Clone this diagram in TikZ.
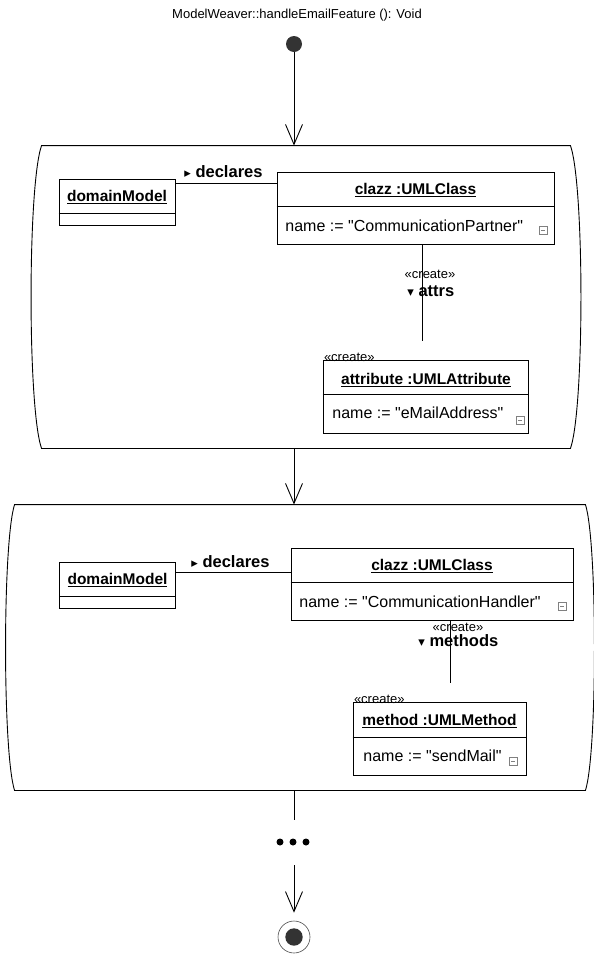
\documentclass[tikz,border=0pt]{standalone}
\usepackage{fontspec}
\setmainfont{Liberation Sans}[Ligatures=TeXOff]
\newfontfamily\symfont{DejaVu Sans}
\usetikzlibrary{arrows.meta,positioning,calc}

\begin{document}
\begin{tikzpicture}[x=1pt,y=-1pt,line width=0.9pt,
    objbox/.style={draw, rectangle, inner sep=0pt},
    objname/.style={font=\fontsize{15.5}{18}\selectfont\bfseries, inner sep=0pt},
    attrtext/.style={font=\fontsize{16}{19}\selectfont, inner sep=0pt, anchor=west},
    stereo/.style={font=\fontsize{13}{15}\selectfont, inner sep=0pt},
    rolelabel/.style={font=\fontsize{16.5}{18}\selectfont\bfseries, inner sep=0pt, anchor=west},
    minusicon/.style={draw=gray, line width=0.6pt, minimum size=8pt, inner sep=0pt,
      path picture={\draw[gray, line width=0.6pt] ([xshift=2pt]path picture bounding box.west) -- ([xshift=-2pt]path picture bounding box.east);}},
    flow/.style={-{Straight Barb[length=20pt,width=17pt]}},
    activity/.style={inner sep=0pt},
    dotnode/.style={circle, fill=black, minimum size=7pt, inner sep=0pt}]

  \useasboundingbox (0,0) rectangle (594,954);

  \node[font=\fontsize{13}{15}\selectfont] (title) at (297,15) {ModelWeaver::handleEmailFeature (): Void};
  \node[circle, fill=black!80, minimum size=16pt, inner sep=0pt] (start) at (294,44) {};

  % first activity
  \node[activity, minimum width=528, minimum height=302] (actA) at (306,297) {};
  \draw (actA.north west) -- (actA.north east)
     .. controls ([shift={(14,40)}]actA.north east) and ([shift={(14,-40)}]actA.south east) .. (actA.south east)
     -- (actA.south west)
     .. controls ([shift={(-14,-40)}]actA.south west) and ([shift={(-14,40)}]actA.north west) .. (actA.north west) -- cycle;

  \node[objbox, minimum width=116, minimum height=46] (domA) at (117,202) {};
  \node[objname] (domAname) at (117,197) {\underline{domainModel}};
  \draw (domA.west |- 0,213) -- (domA.east |- 0,213);

  \node[objbox, minimum width=277, minimum height=72] (clazzA) at (415.5,208) {};
  \node[objname] (clazzAname) at (415.5,190) {\underline{clazz :UMLClass}};
  \draw (clazzA.west |- 0,206) -- (clazzA.east |- 0,206);
  \node[attrtext] (clazzAattr) at (285,226) {name := "CommunicationPartner"};
  \node[minusicon] (clazzAicon) at (543,230) {};

  \draw (domA.east |- 0,183) -- (clazzA.west |- 0,183);
  \node[rolelabel] (declA) at (184,172) {{\symfont\fontsize{13}{13}\selectfont ▸} declares};

  \coordinate (attrsEnd) at (422,341);
  \draw (attrsEnd |- clazzA.south) -- (attrsEnd);
  \node[stereo] (attrsStereo) at (430,274) {«create»};
  \node[rolelabel] (attrsLabel) at (407,291) {{\symfont\fontsize{13}{13}\selectfont ▾} attrs};

  \node[objbox, minimum width=205, minimum height=73] (attrObj) at (425.5,396.5) {};
  \node[stereo, anchor=base west] (attrCreate) at ([xshift=1pt,yshift=-2pt]attrObj.north west) {«create»};
  \node[objname] (attrObjName) at (426,380) {\underline{attribute :UMLAttribute}};
  \draw (attrObj.west |- 0,394) -- (attrObj.east |- 0,394);
  \node[attrtext] (attrObjAttr) at (332,413) {name := "eMailAddress"};
  \node[minusicon] (attrObjIcon) at (520,420) {};

  % second activity
  \node[activity, minimum width=570, minimum height=285] (actB) at (300,647.5) {};
  \draw (actB.north west) -- (actB.north east)
     .. controls ([shift={(12,38)}]actB.north east) and ([shift={(12,-38)}]actB.south east) .. (actB.south east)
     -- (actB.south west)
     .. controls ([shift={(-12,-38)}]actB.south west) and ([shift={(-12,38)}]actB.north west) .. (actB.north west) -- cycle;

  \node[objbox, minimum width=116, minimum height=46] (domB) at (117.5,585) {};
  \node[objname] (domBname) at (117.5,580) {\underline{domainModel}};
  \draw (domB.west |- 0,596) -- (domB.east |- 0,596);

  \node[objbox, minimum width=282, minimum height=72] (clazzB) at (432,584) {};
  \node[objname] (clazzBname) at (432,566) {\underline{clazz :UMLClass}};
  \draw (clazzB.west |- 0,582) -- (clazzB.east |- 0,582);
  \node[attrtext] (clazzBattr) at (299,602) {name := "CommunicationHandler"};
  \node[minusicon] (clazzBicon) at (562,606) {};

  \draw (domB.east |- 0,572) -- (clazzB.west |- 0,572);
  \node[rolelabel] (declB) at (191,562) {{\symfont\fontsize{13}{13}\selectfont ▸} declares};

  \coordinate (methodsEnd) at (450,683);
  \draw (methodsEnd |- clazzB.south) -- (methodsEnd);
  \node[stereo] (methodsStereo) at (458,627) {«create»};
  \node[rolelabel] (methodsLabel) at (418,641) {{\symfont\fontsize{13}{13}\selectfont ▾} methods};

  \node[objbox, minimum width=173, minimum height=73] (methObj) at (439.5,738.5) {};
  \node[stereo, anchor=base west] (methCreate) at ([xshift=1pt,yshift=-2pt]methObj.north west) {«create»};
  \node[objname] (methObjName) at (439.5,721) {\underline{method :UMLMethod}};
  \draw (methObj.west |- 0,737) -- (methObj.east |- 0,737);
  \node[attrtext] (methObjAttr) at (363,756) {name := "sendMail"};
  \node[minusicon] (methObjIcon) at (513,761) {};

  % flow
  \draw[flow] (start) -- (start |- actA.north);
  \draw[flow] (start |- actA.south) -- (start |- actB.north);

  \coordinate (moreTop) at (294,820);
  \draw (start |- actB.south) -- (moreTop);
  \node[dotnode] (moreA) at (280,842) {};
  \node[dotnode] (moreB) at (293,842) {};
  \node[dotnode] (moreC) at (306,842) {};

  \coordinate (moreEnd) at (294,865);
  \node[circle, draw=black!70, line width=0.6pt, minimum size=32pt, inner sep=0pt,
    path picture={\fill[black!80] (path picture bounding box.center) circle (8.7pt);}] (final) at (294,937) {};
  \draw[flow, shorten >=8pt] (moreEnd) -- (final);
\end{tikzpicture}
\end{document}
